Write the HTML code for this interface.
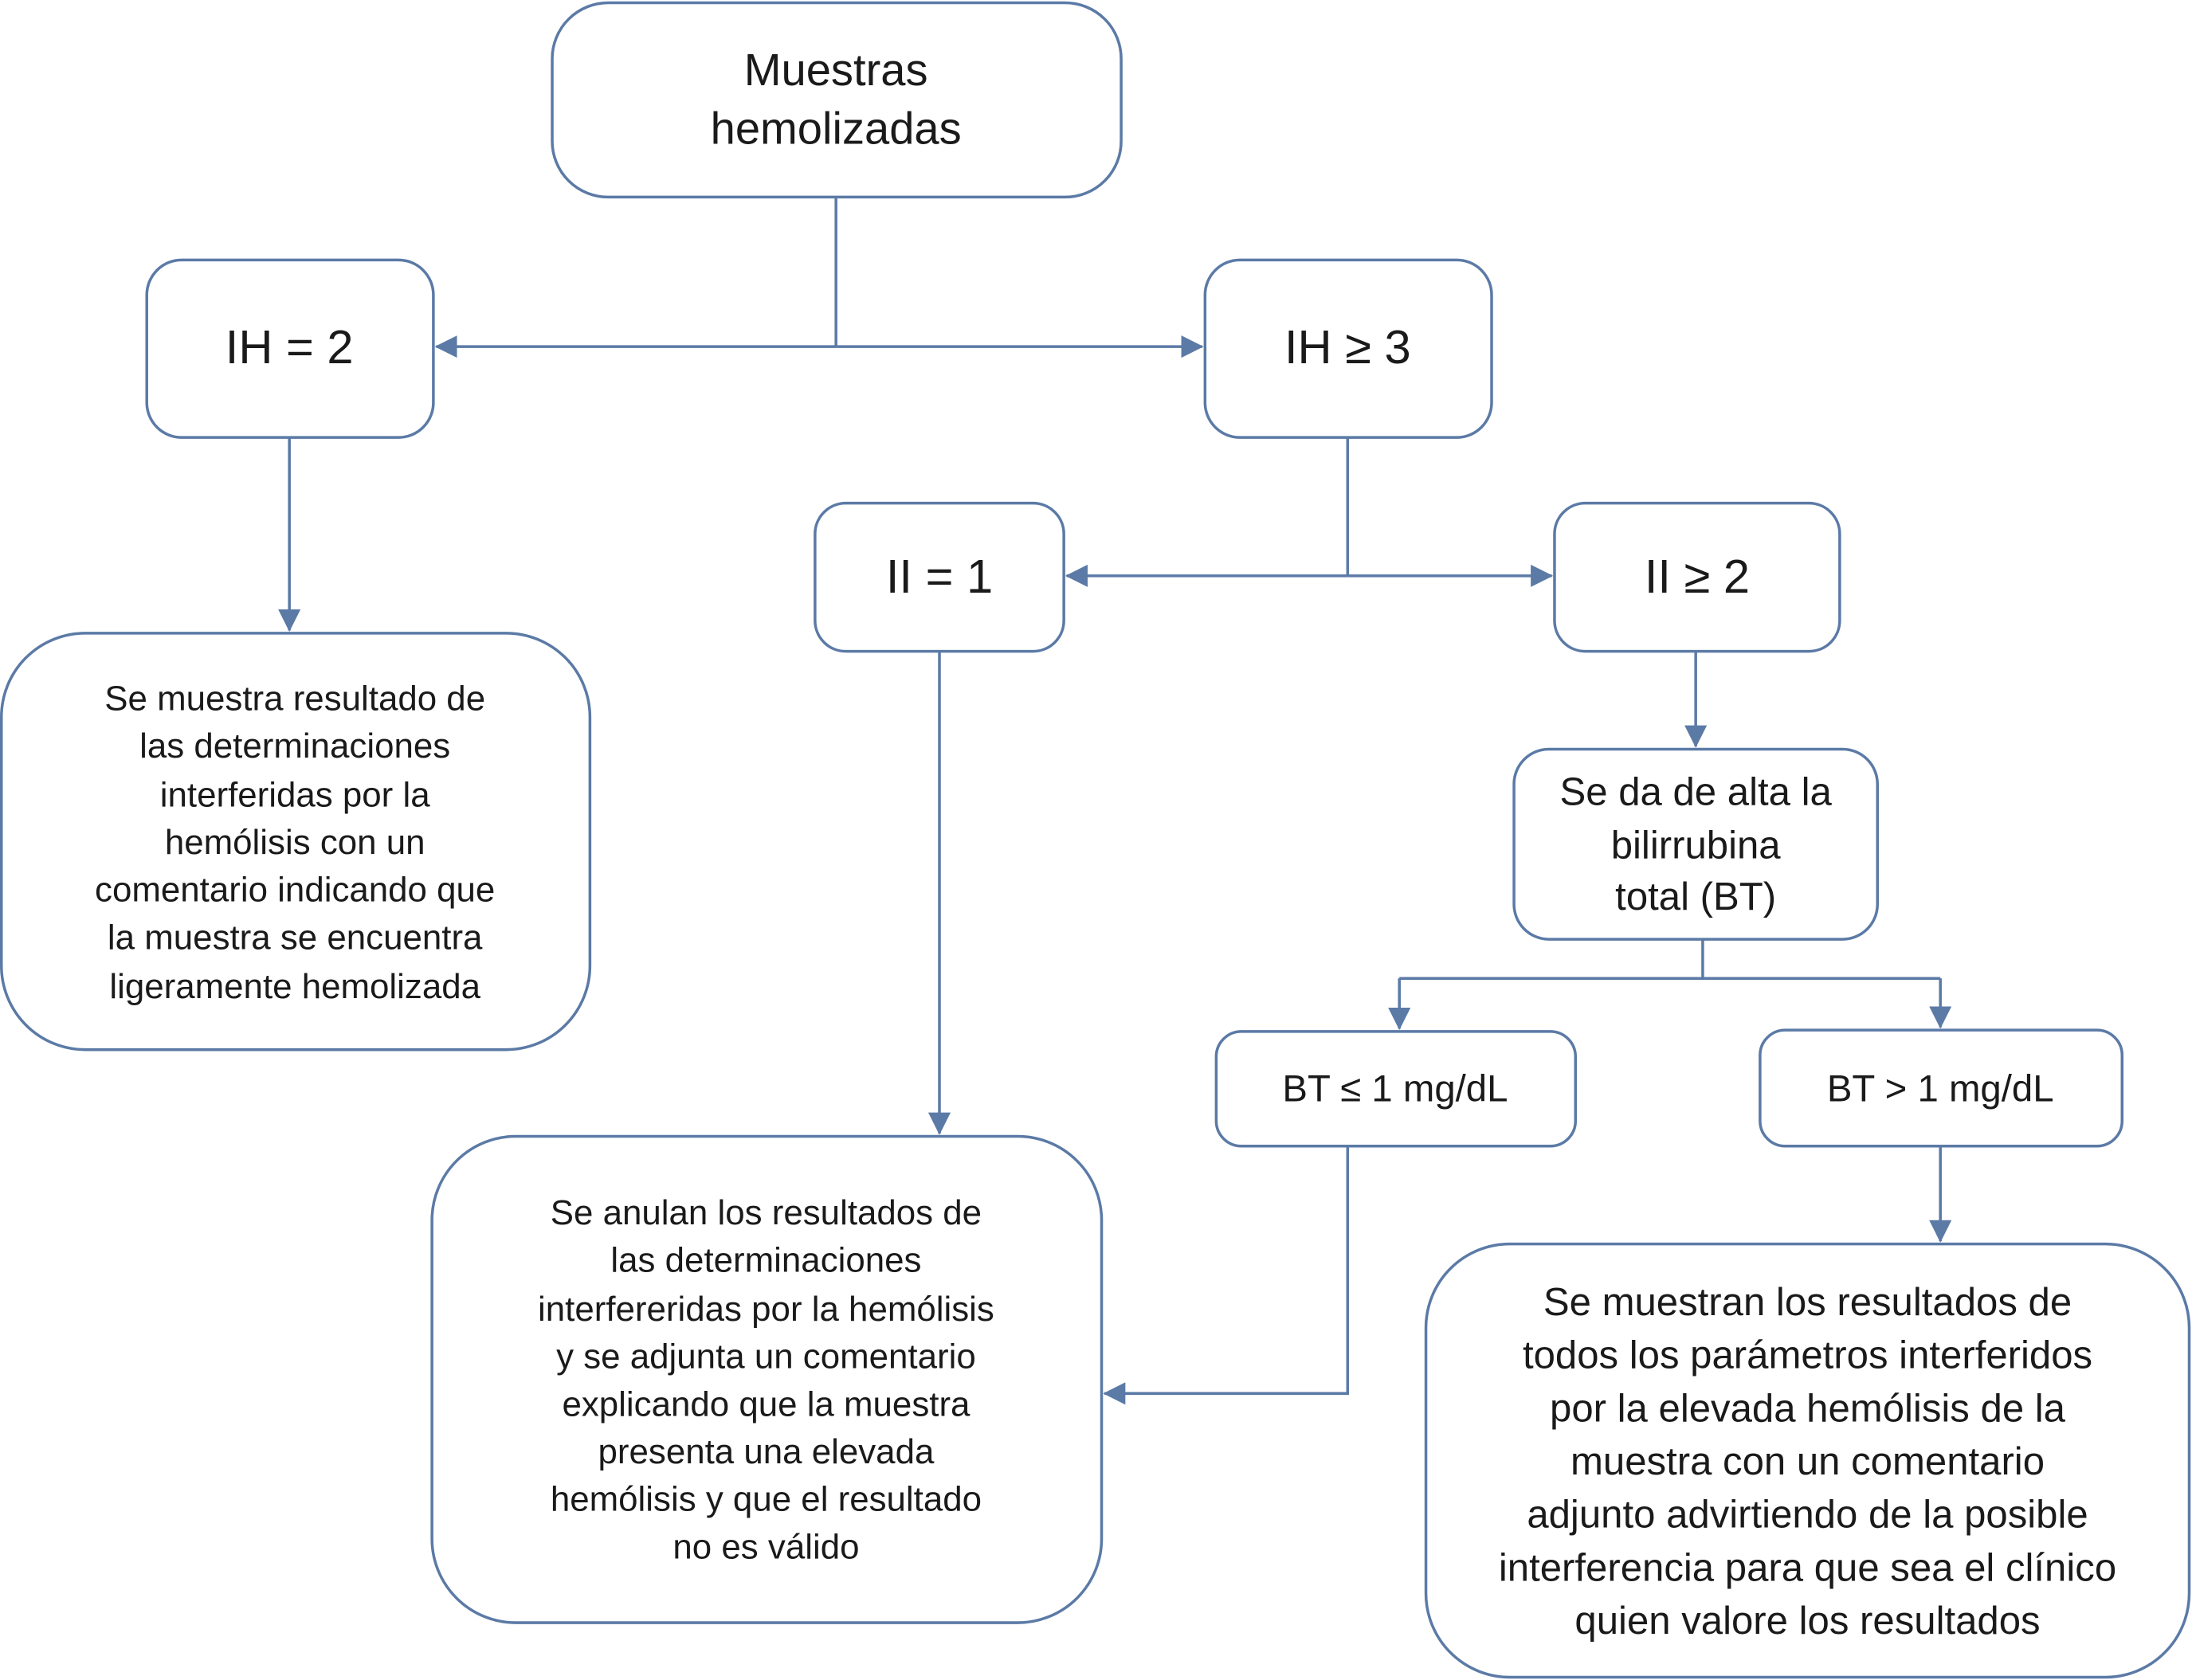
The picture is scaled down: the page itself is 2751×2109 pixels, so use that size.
<!DOCTYPE html>
<html><head><meta charset="utf-8"><style>
html,body{margin:0;padding:0;background:#fff}
svg{display:block}
text{font-family:"Liberation Sans",Arial,sans-serif;fill:#1a1a1a;text-anchor:middle}
</style></head><body>
<svg width="2751" height="2109" viewBox="0 0 1568 1202" preserveAspectRatio="none" xmlns="http://www.w3.org/2000/svg">
<defs><marker id="a" markerWidth="10" markerHeight="10" refX="9" refY="5" orient="auto" markerUnits="userSpaceOnUse" viewBox="0 0 10 10"><path d="M0,0 L10,5 L0,10 z" fill="#5b7aa6"/></marker>
<marker id="b" markerWidth="16" markerHeight="16" refX="15" refY="8" orient="auto" markerUnits="userSpaceOnUse" viewBox="0 0 16 16"><path d="M0,0 L16,8 L0,16 z" fill="#5b7aa6"/></marker></defs>
<g fill="none" stroke="#5b7aa6" stroke-width="2">
<rect x="395" y="2" width="407" height="139" rx="40"/>
<rect x="105" y="186" width="205" height="127" rx="25"/>
<rect x="862" y="186" width="205" height="127" rx="25"/>
<rect x="583" y="360" width="178" height="106" rx="22"/>
<rect x="1112" y="360" width="204" height="106" rx="22"/>
<rect x="1" y="453" width="421" height="298" rx="60"/>
<rect x="1083" y="536" width="260" height="136" rx="25"/>
<rect x="870" y="738" width="257" height="82" rx="18"/>
<rect x="1259" y="737" width="259" height="83" rx="18"/>
<rect x="309" y="813" width="479" height="348" rx="60"/>
<rect x="1020" y="890" width="546" height="310" rx="60"/>
<path d="M598,141 V248"/>
<path d="M598,248 H312" marker-end="url(#b)"/>
<path d="M598,248 H860" marker-end="url(#b)"/>
<path d="M207,313 V451" marker-end="url(#b)"/>
<path d="M964,313 V412"/>
<path d="M964,412 H763" marker-end="url(#b)"/>
<path d="M964,412 H1110" marker-end="url(#b)"/>
<path d="M672,466 V811" marker-end="url(#b)"/>
<path d="M1213,466 V534" marker-end="url(#b)"/>
<path d="M1218,672 V700 M1001,700 H1388"/>
<path d="M1001,700 V736" marker-end="url(#b)"/>
<path d="M1388,700 V735" marker-end="url(#b)"/>
<path d="M964,820 V997 H790" marker-end="url(#b)"/>
<path d="M1388,820 V888" marker-end="url(#b)"/>
</g>
<g font-size="32"><text x="598" y="61">Muestras</text><text x="598" y="103">hemolizadas</text></g>
<text x="207" y="260" font-size="34">IH = 2</text>
<text x="964" y="260" font-size="34">IH ≥ 3</text>
<text x="672" y="424" font-size="34">II = 1</text>
<text x="1214" y="424" font-size="34">II ≥ 2</text>
<g font-size="25">
<text x="211" y="508">Se muestra resultado de</text>
<text x="211" y="542">las determinaciones</text>
<text x="211" y="577">interferidas por la</text>
<text x="211" y="611">hemólisis con un</text>
<text x="211" y="645">comentario indicando que</text>
<text x="211" y="679">la muestra se encuentra</text>
<text x="211" y="714">ligeramente hemolizada</text>
</g>
<g font-size="28">
<text x="1213" y="576">Se da de alta la</text>
<text x="1213" y="614">bilirrubina</text>
<text x="1213" y="651">total (BT)</text>
</g>
<text x="998" y="788" font-size="27">BT ≤ 1 mg/dL</text>
<text x="1388" y="788" font-size="27">BT &gt; 1 mg/dL</text>
<g font-size="25">
<text x="548" y="876">Se anulan los resultados de</text>
<text x="548" y="910">las determinaciones</text>
<text x="548" y="945">interfereridas por la hemólisis</text>
<text x="548" y="979">y se adjunta un comentario</text>
<text x="548" y="1013">explicando que la muestra</text>
<text x="548" y="1047">presenta una elevada</text>
<text x="548" y="1081">hemólisis y que el resultado</text>
<text x="548" y="1115">no es válido</text>
</g>
<g font-size="28">
<text x="1293" y="941">Se muestran los resultados de</text>
<text x="1293" y="979">todos los parámetros interferidos</text>
<text x="1293" y="1017">por la elevada hemólisis de la</text>
<text x="1293" y="1055">muestra con un comentario</text>
<text x="1293" y="1093">adjunto advirtiendo de la posible</text>
<text x="1293" y="1131">interferencia para que sea el clínico</text>
<text x="1293" y="1169">quien valore los resultados</text>
</g>
</svg>
</body></html>
